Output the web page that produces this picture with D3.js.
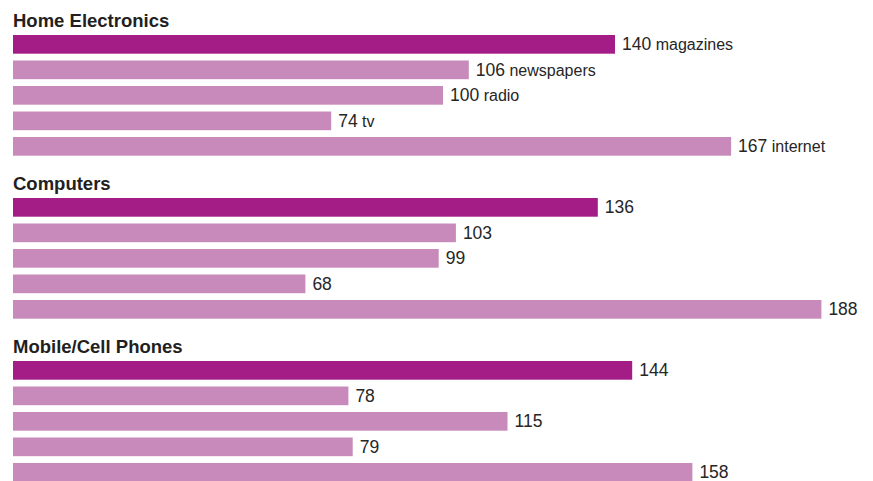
<!DOCTYPE html>
<html>
<head>
<meta charset="utf-8">
<script src="https://cdn.jsdelivr.net/npm/d3@7"></script>
<style>
  html, body { margin: 0; padding: 0; background: #fff; }
  svg { display: block; font-family: "Liberation Sans", Arial, Helvetica, sans-serif; }
</style>
</head>
<body>
<svg id="chart" width="873" height="481"></svg>
<script>
const groups = ["Home Electronics", "Computers", "Mobile/Cell Phones"];
const media = ["magazines", "newspapers", "radio", "tv", "internet"];
const homeElectronics = [140, 106, 100, 74, 167];
const computers = [136, 103, 99, 68, 188];
const mobilePhones = [144, 78, 115, 79, 158];
const seriesValues = [homeElectronics, computers, mobilePhones];

const svg = d3.select("#chart");
const x = d3.scaleLinear().domain([0, 200]).range([13, 873]);
const gy = d3.scaleBand().domain(groups).range([35, 35 + 163 * 3]);
const by = d3.scaleBand().domain(media).range([0, 120.7]).paddingInner(0.267);

const dark = "#A41C86", light = "#C78ABA";

groups.forEach((g, gi) => {
  const top = gy(g);
  const grp = svg.append("g").attr("transform", `translate(0,${top})`);
  grp.append("text")
    .attr("x", 13).attr("y", -8)
    .attr("font-size", 18.5).attr("font-weight", "bold")
    .attr("fill", "#231f20")
    .text(g);
  const data = media.map((m, i) => ({ m, v: seriesValues[gi][i], i }));
  grp.selectAll("rect").data(data).join("rect")
    .attr("x", x(0))
    .attr("y", d => by(d.m))
    .attr("width", d => x(d.v) - x(0))
    .attr("height", by.bandwidth())
    .attr("fill", d => d.i === 0 ? dark : light);
  const lab = grp.selectAll("text.val").data(data).join("text")
    .attr("class", "val")
    .attr("x", d => x(d.v) + 7)
    .attr("y", d => by(d.m) + by.bandwidth() / 2 + 6)
    .attr("fill", "#262626");
  lab.append("tspan").attr("font-size", 17.5).text(d => d.v);
  if (gi === 0) {
    lab.append("tspan").attr("font-size", 16).text(d => " " + d.m);
  }
});
</script>
</body>
</html>
